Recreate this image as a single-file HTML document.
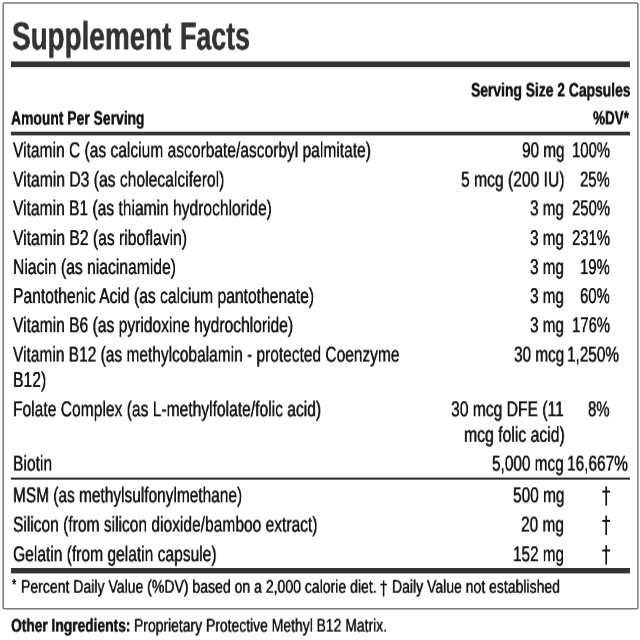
<!DOCTYPE html>
<html><head><meta charset="utf-8"><title>Supplement Facts</title>
<style>
html,body{margin:0;padding:0;background:#fff;}
body{width:640px;height:640px;position:relative;overflow:hidden;font-family:"Liberation Sans",sans-serif;}
.t{position:absolute;white-space:nowrap;line-height:1;transform-origin:0 0;will-change:transform;text-rendering:geometricPrecision;}
.t{text-shadow:-0.15px 0 0 currentColor,0.15px 0 0 currentColor;}
.b{font-weight:bold;text-shadow:-0.15px 0 0 currentColor,0.15px 0 0 currentColor;}
.h{text-shadow:-0.25px 0 0 currentColor,0.25px 0 0 currentColor;}
.g{position:absolute;left:0;top:0;}
</style></head><body>
<svg class="g" width="640" height="640" viewBox="0 0 640 640">
<rect x="3.15" y="3.1" width="634.75" height="605.7" fill="none" stroke="#7a7a7a" stroke-width="1.5" rx="1"/>
<g fill="#333">
<rect x="10.9" y="61.45" width="619.1" height="5.7"/>
<rect x="10.9" y="131.7" width="619.1" height="3.7"/>
<rect x="10.9" y="477.6" width="619.1" height="2.0" fill="#262626"/>
<rect x="10.9" y="568.0" width="619.1" height="5.4"/>
</g>
<g fill="#151515">
<rect x="605.35" y="486.30" width="1.7" height="19.40"/><rect x="602.30" y="490.60" width="7.8" height="2.0"/>
<rect x="605.35" y="515.60" width="1.7" height="19.40"/><rect x="602.30" y="519.90" width="7.8" height="2.0"/>
<rect x="605.35" y="545.20" width="1.7" height="19.40"/><rect x="602.30" y="549.50" width="7.8" height="2.0"/>
<rect x="382.85" y="580.60" width="1.5" height="15.90"/><rect x="380.40" y="583.70" width="6.4" height="1.7"/>
</g>
</svg>
<div class="t b h" style="left:11.59px;top:17px;font-size:39.2px;transform:translateY(0.4px) scaleX(0.7108);color:#333;">Supplement</div>
<div class="t b h" style="left:180.46px;top:17px;font-size:39.2px;transform:translateY(0.4px) scaleX(0.6835);color:#333;">Facts</div>
<div class="t b" style="left:11.25px;top:109px;font-size:19.2px;transform:translateY(0.6px) scaleX(0.7238);color:#151515;">Amount Per Serving</div>
<div class="t b" style="left:470.75px;top:81px;font-size:19.2px;transform:translateY(0.5px) scaleX(0.7225);color:#151515;">Serving Size 2 Capsules</div>
<div class="t b" style="left:593.05px;top:109px;font-size:19.2px;transform:translateY(0.4px) scaleX(0.7013);color:#151515;">%DV*</div>
<div class="t" style="left:13.23px;top:140px;font-size:21.4px;transform:translateY(0.3px) scaleX(0.7278);color:#151515;">Vitamin C (as calcium ascorbate/ascorbyl palmitate)</div>
<div class="t" style="left:521.59px;top:140px;font-size:21.4px;transform:translateY(0.3px) scaleX(0.7155);color:#151515;">90 mg</div>
<div class="t" style="left:571.73px;top:140px;font-size:21.4px;transform:translateY(0.3px) scaleX(0.6957);color:#151515;">100%</div>
<div class="t" style="left:13.23px;top:169px;font-size:21.4px;transform:translateY(0.6px) scaleX(0.7327);color:#151515;">Vitamin D3 (as cholecalciferol)</div>
<div class="t" style="left:461.08px;top:169px;font-size:21.4px;transform:translateY(0.6px) scaleX(0.7316);color:#151515;">5 mcg (200 IU)</div>
<div class="t" style="left:580.08px;top:169px;font-size:21.4px;transform:translateY(0.6px) scaleX(0.6957);color:#151515;">25%</div>
<div class="t" style="left:13.23px;top:198px;font-size:21.4px;transform:translateY(0.3px) scaleX(0.7289);color:#151515;">Vitamin B1 (as thiamin hydrochloride)</div>
<div class="t" style="left:530.17px;top:198px;font-size:21.4px;transform:translateY(0.3px) scaleX(0.7118);color:#151515;">3 mg</div>
<div class="t" style="left:571.73px;top:198px;font-size:21.4px;transform:translateY(0.3px) scaleX(0.6957);color:#151515;">250%</div>
<div class="t" style="left:13.23px;top:228px;font-size:21.4px;transform:translateY(0.1px) scaleX(0.7329);color:#151515;">Vitamin B2 (as riboflavin)</div>
<div class="t" style="left:530.17px;top:228px;font-size:21.4px;transform:translateY(0.1px) scaleX(0.7118);color:#151515;">3 mg</div>
<div class="t" style="left:571.73px;top:228px;font-size:21.4px;transform:translateY(0.1px) scaleX(0.6957);color:#151515;">231%</div>
<div class="t" style="left:12.93px;top:257px;font-size:21.4px;transform:translateY(0.1px) scaleX(0.7329);color:#151515;">Niacin (as niacinamide)</div>
<div class="t" style="left:530.17px;top:257px;font-size:21.4px;transform:translateY(0.1px) scaleX(0.7118);color:#151515;">3 mg</div>
<div class="t" style="left:580.08px;top:257px;font-size:21.4px;transform:translateY(0.1px) scaleX(0.6957);color:#151515;">19%</div>
<div class="t" style="left:12.93px;top:286px;font-size:21.4px;transform:translateY(0.1px) scaleX(0.7317);color:#151515;">Pantothenic Acid (as calcium pantothenate)</div>
<div class="t" style="left:530.17px;top:286px;font-size:21.4px;transform:translateY(0.1px) scaleX(0.7118);color:#151515;">3 mg</div>
<div class="t" style="left:580.08px;top:286px;font-size:21.4px;transform:translateY(0.1px) scaleX(0.6957);color:#151515;">60%</div>
<div class="t" style="left:13.23px;top:315px;font-size:21.4px;transform:translateY(0.2px) scaleX(0.7301);color:#151515;">Vitamin B6 (as pyridoxine hydrochloride)</div>
<div class="t" style="left:530.17px;top:315px;font-size:21.4px;transform:translateY(0.2px) scaleX(0.7118);color:#151515;">3 mg</div>
<div class="t" style="left:571.73px;top:315px;font-size:21.4px;transform:translateY(0.2px) scaleX(0.6957);color:#151515;">176%</div>
<div class="t" style="left:13.23px;top:344px;font-size:21.4px;transform:translateY(0.6px) scaleX(0.7245);color:#151515;">Vitamin B12 (as methylcobalamin - protected Coenzyme</div>
<div class="t" style="left:513.87px;top:344px;font-size:21.4px;transform:translateY(0.6px) scaleX(0.7160);color:#151515;">30 mcg</div>
<div class="t" style="left:567.16px;top:344px;font-size:21.4px;transform:translateY(0.6px) scaleX(0.7155);color:#151515;">1,250%</div>
<div class="t" style="left:12.92px;top:369px;font-size:21.4px;transform:translateY(0.9px) scaleX(0.7352);color:#151515;">B12)</div>
<div class="t" style="left:12.93px;top:399px;font-size:21.4px;transform:translateY(0.3px) scaleX(0.7300);color:#151515;">Folate Complex (as L-methylfolate/folic acid)</div>
<div class="t" style="left:450.97px;top:399px;font-size:21.4px;transform:translateY(0.3px) scaleX(0.7316);color:#151515;">30 mcg DFE (11</div>
<div class="t" style="left:588.25px;top:399px;font-size:21.4px;transform:translateY(0.3px) scaleX(0.6957);color:#151515;">8%</div>
<div class="t" style="left:463.80px;top:424px;font-size:21.4px;transform:translateY(0.8px) scaleX(0.7372);color:#151515;">mcg folic acid)</div>
<div class="t" style="left:12.93px;top:453px;font-size:21.4px;transform:translateY(0.6px) scaleX(0.7303);color:#151515;">Biotin</div>
<div class="t" style="left:492.39px;top:453px;font-size:21.4px;transform:translateY(0.6px) scaleX(0.7178);color:#151515;">5,000 mcg</div>
<div class="t" style="left:567.15px;top:453px;font-size:21.4px;transform:translateY(0.6px) scaleX(0.7205);color:#151515;">16,667%</div>
<div class="t" style="left:12.95px;top:485px;font-size:21.4px;transform:translateY(0.3px) scaleX(0.7217);color:#151515;">MSM (as methylsulfonylmethane)</div>
<div class="t" style="left:512.59px;top:485px;font-size:21.4px;transform:translateY(0.3px) scaleX(0.7215);color:#151515;">500 mg</div>
<div class="t" style="left:13.48px;top:514px;font-size:21.4px;transform:translateY(0.6px) scaleX(0.7276);color:#151515;">Silicon (from silicon dioxide/bamboo extract)</div>
<div class="t" style="left:521.29px;top:514px;font-size:21.4px;transform:translateY(0.6px) scaleX(0.7208);color:#151515;">20 mg</div>
<div class="t" style="left:13.48px;top:544px;font-size:21.4px;transform:translateY(0.2px) scaleX(0.7285);color:#151515;">Gelatin (from gelatin capsule)</div>
<div class="t" style="left:513.06px;top:544px;font-size:21.4px;transform:translateY(0.2px) scaleX(0.7148);color:#151515;">152 mg</div>
<div class="t" style="left:11.83px;top:578px;font-size:16px;transform:scaleX(0.6942);color:#151515;">*</div>
<div class="t" style="left:20.66px;top:577px;font-size:18.3px;transform:translateY(0.7px) scaleX(0.7680);color:#151515;">Percent Daily Value (%DV) based on a 2,000 calorie diet.</div>
<div class="t" style="left:392.07px;top:577px;font-size:18.3px;transform:translateY(0.7px) scaleX(0.7662);color:#151515;">Daily Value not established</div>
<div class="t b" style="left:11.45px;top:616px;font-size:18.4px;transform:translateY(0.6px) scaleX(0.7489);color:#151515;">Other Ingredients:</div>
<div class="t" style="left:133.97px;top:616px;font-size:18.3px;transform:translateY(0.6px) scaleX(0.7616);color:#151515;">Proprietary Protective Methyl B12 Matrix.</div>
</body></html>
